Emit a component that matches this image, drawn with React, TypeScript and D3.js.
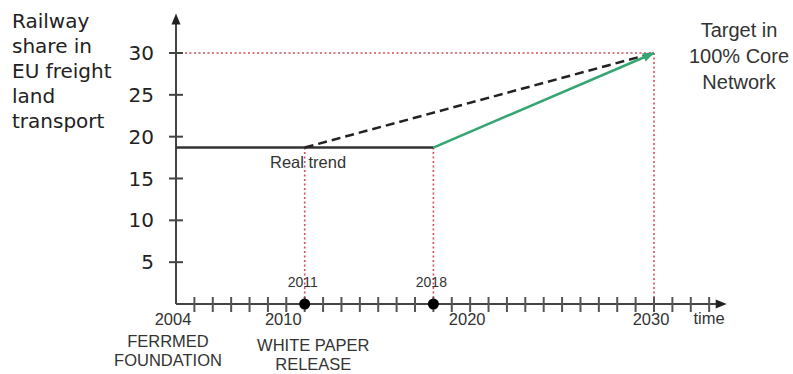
import React from "react";
import * as d3 from "d3";

// ---- data ----
const yTicks = [5, 10, 15, 20, 25, 30];
const xLabelYears = [2004, 2010, 2020, 2030];
const minorYears = d3.range(2005, 2034);
const milestoneYears = [2011, 2018];
const currentShare = 18.7;
const targetYear = 2030;
const targetShare = 30;
const realTrendLine: [number, number][] = [[2004, currentShare], [2018, currentShare]];
const plannedLine: [number, number][] = [[2011, currentShare], [2030, targetShare]];
const newLine: [number, number][] = [[2018, currentShare], [2030, targetShare]];
const titleLines = ["Railway", "share in", "EU freight", "land", "transport"];
const targetLines = ["Target in", "100% Core", "Network"];
const eventLabels = [
  { year: 2004, lines: ["FERRMED", "FOUNDATION"], dx: -8, dy: 0 },
  { year: 2010, lines: ["WHITE PAPER", "RELEASE"], dx: 27, dy: 4 },
];

export default function App() {
  const W = 793, H = 374;
  const x = d3.scaleLinear().domain([2004, 2030]).range([176, 654]);
  const y = d3.scaleLinear().domain([0, 30]).range([304, 53]);
  const line = d3.line<[number, number]>().x(d => x(d[0])).y(d => y(d[1]));

  const x0 = x(2004), y0 = y(0);
  const xEnd = x(2033.9);
  const yTop = y(34.6);

  const sans = "'Liberation Sans', Arial, Helvetica, sans-serif";
  const verd = "'DejaVu Sans', Verdana, sans-serif";
  const red = "#d2505e";
  const green = "#35a572";

  // green arrowhead
  const tx = x(targetYear), ty = y(targetShare);
  const sx = x(2018), sy = y(currentShare);
  const ang = Math.atan2(ty - sy, tx - sx);
  const L = 11, Wd = 4.5;
  const bx = tx - L * Math.cos(ang), by = ty - L * Math.sin(ang);
  const arrowPts = [
    [tx, ty],
    [bx + Wd * Math.sin(ang), by - Wd * Math.cos(ang)],
    [bx - Wd * Math.sin(ang), by + Wd * Math.cos(ang)],
  ].map(p => p.join(",")).join(" ");

  return (
    <svg width={W} height={H} style={{ position: "absolute", left: 0, top: 0, background: "#fff" }}>
      {/* title */}
      <text fontFamily={verd} fontSize={20} fill="#222">
        {titleLines.map((t, i) => (
          <tspan key={i} x={12} y={28 + i * 25}>{t}</tspan>
        ))}
      </text>

      {/* target label */}
      <text fontFamily={sans} fontSize={20} fill="#333" textAnchor="middle">
        {targetLines.map((t, i) => (
          <tspan key={i} x={739} y={37 + i * 26}>{t}</tspan>
        ))}
      </text>

      {/* red dotted guides */}
      <g stroke={red} strokeWidth={1.6} strokeDasharray="2,2.5" fill="none">
        <line x1={x0} x2={x(targetYear)} y1={y(targetShare)} y2={y(targetShare)} />
        <line x1={x(2011)} x2={x(2011)} y1={y(currentShare)} y2={y0} />
        <line x1={x(2018)} x2={x(2018)} y1={y(currentShare)} y2={y0} />
        <line x1={x(targetYear)} x2={x(targetYear)} y1={y(targetShare)} y2={y0} />
      </g>

      {/* y axis */}
      <line x1={x0} x2={x0} y1={y0} y2={yTop + 8} stroke="#444" strokeWidth={2} />
      <polygon points={`${x0},${yTop - 1} ${x0 - 4.5},${yTop + 10} ${x0 + 4.5},${yTop + 10}`} fill="#222" />
      {yTicks.map(t => (
        <g key={t}>
          <line x1={x0 - 7} x2={x0 + 7} y1={y(t)} y2={y(t)} stroke="#444" strokeWidth={2} />
          <text x={154} y={y(t) + 7} textAnchor="end" fontFamily={verd} fontSize={20} fill="#222">{t}</text>
        </g>
      ))}

      {/* x axis */}
      <line x1={x0} x2={xEnd - 8} y1={y0} y2={y0} stroke="#444" strokeWidth={2} />
      <polygon points={`${xEnd + 1},${y0} ${xEnd - 10},${y0 - 4.5} ${xEnd - 10},${y0 + 4.5}`} fill="#222" />
      {minorYears.map(yr => (
        <line key={yr} x1={x(yr)} x2={x(yr)} y1={y0 - 7} y2={y0 + 8} stroke="#555" strokeWidth={2} />
      ))}
      {xLabelYears.map(yr => (
        <text key={yr} x={x(yr) - 3} y={325} textAnchor="middle" fontFamily={sans} fontSize={16.5} fill="#333">{yr}</text>
      ))}
      <text x={709} y={324} textAnchor="middle" fontFamily={sans} fontSize={16.5} fill="#333">time</text>

      {/* milestones */}
      {milestoneYears.map(yr => (
        <g key={yr}>
          <circle cx={x(yr)} cy={y0} r={5.5} fill="#000" />
          <text x={x(yr) - 2} y={287} textAnchor="middle" fontFamily={sans} fontSize={14} fill="#333">{yr}</text>
        </g>
      ))}

      {/* event labels */}
      {eventLabels.map((e, i) => (
        <text key={i} fontFamily={sans} fontSize={16.5} fill="#333" textAnchor="middle">
          {e.lines.map((t, j) => (
            <tspan key={j} x={x(e.year) + e.dx} y={347 + e.dy + j * 19}>{t}</tspan>
          ))}
        </text>
      ))}

      {/* lines */}
      <path d={line(realTrendLine) ?? ""} stroke="#333" strokeWidth={2.5} fill="none" />
      <path d={line(plannedLine) ?? ""} stroke="#222" strokeWidth={2.5} strokeDasharray="9,5" fill="none" />
      <path d={line(newLine) ?? ""} stroke={green} strokeWidth={2.5} fill="none" />
      <polygon points={arrowPts} fill={green} />

      <text x={270} y={168} fontFamily={sans} fontSize={16.5} fill="#333">Real trend</text>
    </svg>
  );
}
